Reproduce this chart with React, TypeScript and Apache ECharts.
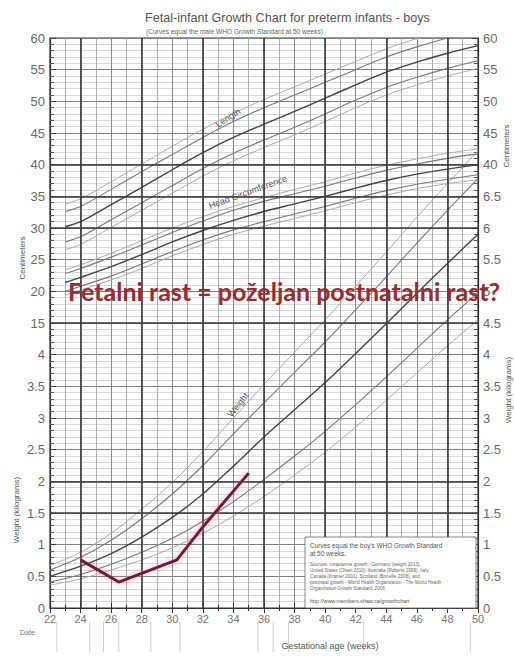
import React, { useEffect, useRef } from 'react';
import * as echarts from 'echarts';

// ---------- data ----------
const weeksW = [22, 24, 26, 28, 30, 32, 34, 36, 38, 40, 42, 44, 46, 48, 50];
const weightP3 = [0.36, 0.46, 0.6, 0.76, 0.95, 1.18, 1.45, 1.76, 2.1, 2.46, 2.86, 3.28, 3.71, 4.14, 4.55];
const weightP10 = [0.41, 0.53, 0.69, 0.88, 1.1, 1.37, 1.68, 2.03, 2.4, 2.79, 3.21, 3.65, 4.1, 4.55, 4.98];
const weightP50 = [0.5, 0.66, 0.86, 1.12, 1.43, 1.8, 2.24, 2.7, 3.13, 3.56, 4.02, 4.49, 4.97, 5.44, 5.9];
const weightP90 = [0.6, 0.8, 1.07, 1.41, 1.8, 2.25, 2.75, 3.24, 3.72, 4.2, 4.71, 5.23, 5.76, 6.28, 6.78];
const weightP97 = [0.67, 0.88, 1.18, 1.56, 1.98, 2.47, 3.0, 3.53, 4.04, 4.55, 5.08, 5.62, 6.17, 6.7, 7.22];

const weeksLH = [23, 24, 26, 28, 30, 32, 34, 36, 38, 40, 42, 44, 46, 48, 50];
const lengthP3 = [26.6, 27.4, 30.1, 32.8, 35.5, 38.2, 40.6, 42.7, 44.7, 46.8, 49.0, 51.0, 52.6, 54.0, 55.2];
const lengthP10 = [27.8, 28.6, 31.3, 34.0, 36.7, 39.4, 41.8, 43.9, 45.9, 48.0, 50.2, 52.2, 53.8, 55.2, 56.4];
const lengthP50 = [30.2, 31.0, 33.7, 36.4, 39.2, 41.9, 44.3, 46.4, 48.4, 50.5, 52.6, 54.6, 56.2, 57.6, 58.8];
const lengthP90 = [32.6, 33.4, 36.1, 38.9, 41.6, 44.3, 46.8, 49.0, 51.0, 53.0, 55.0, 57.0, 58.6, 60.0, 61.3];
const lengthP97 = [33.8, 34.6, 37.3, 40.1, 42.9, 45.6, 48.1, 50.3, 52.3, 54.3, 56.3, 58.3, 59.9, 61.3, 62.6];

const headP3 = [19.4, 20.2, 21.8, 23.6, 25.6, 27.4, 29.0, 30.3, 31.5, 32.7, 34.0, 35.2, 36.2, 37.0, 37.6];
const headP10 = [20.0, 20.8, 22.4, 24.3, 26.3, 28.1, 29.7, 31.0, 32.2, 33.4, 34.7, 35.9, 36.9, 37.7, 38.4];
const headP50 = [21.4, 22.2, 23.9, 25.8, 27.8, 29.6, 31.2, 32.6, 33.8, 35.0, 36.3, 37.5, 38.5, 39.3, 40.0];
const headP90 = [22.8, 23.6, 25.4, 27.3, 29.3, 31.1, 32.8, 34.2, 35.4, 36.6, 37.9, 39.1, 40.1, 41.0, 41.7];
const headP97 = [23.4, 24.2, 26.0, 28.0, 30.0, 31.8, 33.4, 34.8, 36.1, 37.3, 38.7, 39.9, 40.9, 41.8, 42.5];

const patientWeeks = [24, 26.5, 30.3, 32, 35];
const patientWeightKg = [0.76, 0.41, 0.76, 1.28, 2.13];

const leftTickLabels = ['0', '0.5', '1', '1.5', '2', '2.5', '3', '3.5', '4', '15', '20', '25', '30', '35', '40', '45', '50', '55', '60'];
const rightTickLabels = ['0', '0.5', '1', '1.5', '2', '2.5', '3', '3.5', '4', '4.5', '5', '5.5', '6', '6.5', '40', '45', '50', '55', '60'];

const boldWeeks = [24, 28, 32, 36, 40, 44, 48];
const boldRows = [3, 4, 9, 12, 13, 14];
const dateLineWeeks = [22.45, 24.6, 25.5, 26.5, 28.6, 30.5, 35.6, 36.6, 37.6, 42.5, 49.5];

// unit conversions onto the shared grid scale (1 unit = 5 cm = 0.5 kg)
const cmToUnit = (c: number) => c / 5 + 6;
const kgToUnit = (k: number) => k * 2;

const FONT = 'Liberation Sans, Arial, sans-serif';

const pctStyle: Record<string, { color: string; width: number }> = {
  p3: { color: '#ababab', width: 1 },
  p10: { color: '#7a7a7a', width: 1.1 },
  p50: { color: '#444', width: 1.4 },
  p90: { color: '#7a7a7a', width: 1.1 },
  p97: { color: '#ababab', width: 1 },
};

export default function App() {
  const ref = useRef<HTMLDivElement>(null);

  useEffect(() => {
    document.body.style.margin = '0';
    if (!ref.current) return;
    const chart = echarts.init(ref.current, undefined, { renderer: 'svg' });

    const curve = (name: string, key: string, xs: number[], ys: number[], conv: (v: number) => number) => ({
      name,
      type: 'line',
      smooth: 0.3,
      symbol: 'none',
      silent: true,
      data: xs.map((x, i) => [x, conv(ys[i])]),
      lineStyle: { color: pctStyle[key].color, width: pctStyle[key].width },
      z: 3,
    });

    const series: any[] = [
      curve('W3', 'p3', weeksW, weightP3, kgToUnit),
      curve('W10', 'p10', weeksW, weightP10, kgToUnit),
      curve('W50', 'p50', weeksW, weightP50, kgToUnit),
      curve('W90', 'p90', weeksW, weightP90, kgToUnit),
      curve('W97', 'p97', weeksW, weightP97, kgToUnit),
      curve('L3', 'p3', weeksLH, lengthP3, cmToUnit),
      curve('L10', 'p10', weeksLH, lengthP10, cmToUnit),
      curve('L50', 'p50', weeksLH, lengthP50, cmToUnit),
      curve('L90', 'p90', weeksLH, lengthP90, cmToUnit),
      curve('L97', 'p97', weeksLH, lengthP97, cmToUnit),
      curve('H3', 'p3', weeksLH, headP3, cmToUnit),
      curve('H10', 'p10', weeksLH, headP10, cmToUnit),
      curve('H50', 'p50', weeksLH, headP50, cmToUnit),
      curve('H90', 'p90', weeksLH, headP90, cmToUnit),
      curve('H97', 'p97', weeksLH, headP97, cmToUnit),
      {
        name: 'grid-bold',
        type: 'line',
        data: [],
        silent: true,
        markLine: {
          silent: true,
          symbol: 'none',
          label: { show: false },
          lineStyle: { color: '#3a3a3a', width: 1.6, type: 'solid' },
          data: [
            ...boldWeeks.map((w) => ({ xAxis: w })),
            ...boldRows.map((r) => ({ yAxis: r })),
          ],
        },
        z: 2,
      },
      {
        name: 'Patient',
        type: 'line',
        symbol: 'none',
        data: patientWeeks.map((w, i) => [w, kgToUnit(patientWeightKg[i])]),
        lineStyle: {
          color: '#6e1d3c',
          width: 3,
          shadowColor: 'rgba(235,120,150,0.7)',
          shadowBlur: 6,
        },
        z: 10,
      },
    ];

    const option: any = {
      animation: false,
      backgroundColor: '#fff',
      grid: { left: 50, right: 36, top: 38, bottom: 48, show: true, borderColor: '#333', borderWidth: 1.2 },
      xAxis: [
        {
          type: 'value',
          min: 22,
          max: 50,
          interval: 2,
          axisLine: { show: true, lineStyle: { color: '#333', width: 1.2 } },
          axisTick: { show: true, inside: true, length: 5, lineStyle: { color: '#333' } },
          minorTick: { show: true, splitNumber: 2, length: 3, lineStyle: { color: '#333' } },
          axisLabel: { color: '#777', fontSize: 11, fontFamily: FONT, margin: 5 },
          splitLine: { show: true, lineStyle: { color: '#8a8a8a', width: 1 } },
          minorSplitLine: { show: true, lineStyle: { color: '#9a9a9a', width: 0.8 } },
        },
        {
          type: 'value',
          min: 22,
          max: 50,
          interval: 2,
          position: 'top',
          axisLine: { show: false },
          axisTick: { show: true, inside: true, length: 5, lineStyle: { color: '#333' } },
          minorTick: { show: true, splitNumber: 2, length: 3, lineStyle: { color: '#333' } },
          axisLabel: { show: false },
          splitLine: { show: false },
        },
      ],
      yAxis: [
        {
          type: 'value',
          min: 0,
          max: 18,
          interval: 1,
          position: 'left',
          axisLine: { show: true, lineStyle: { color: '#333', width: 1.2 } },
          axisTick: { show: true, inside: true, length: 6, lineStyle: { color: '#444' } },
          minorTick: { show: true, splitNumber: 5, length: 4, lineStyle: { color: '#555' } },
          axisLabel: { formatter: (v: number) => leftTickLabels[v] ?? '', color: '#6a6a6a', fontSize: 13, fontFamily: FONT, margin: 5 },
          splitLine: { show: true, lineStyle: { color: '#808080', width: 1.1 } },
          minorSplitLine: { show: true, lineStyle: { color: '#c8c8c8', width: 0.7 } },
        },
        {
          type: 'value',
          min: 0,
          max: 18,
          interval: 1,
          position: 'right',
          axisLine: { show: true, lineStyle: { color: '#333', width: 1.2 } },
          axisTick: { show: true, inside: true, length: 6, lineStyle: { color: '#444' } },
          minorTick: { show: true, splitNumber: 5, length: 4, lineStyle: { color: '#555' } },
          axisLabel: { formatter: (v: number) => rightTickLabels[v] ?? '', color: '#6a6a6a', fontSize: 13, fontFamily: FONT, margin: 5 },
          splitLine: { show: false },
        },
      ],
      series,
    };

    chart.setOption(option);

    const dateLines = dateLineWeeks.map((w) => {
      const px = chart.convertToPixel({ xAxisIndex: 0 }, w) as number;
      return {
        type: 'line',
        shape: { x1: px, y1: 622, x2: px, y2: 652 },
        style: { stroke: '#cfcfcf', lineWidth: 1 },
        silent: true,
      };
    });

    const txt = (text: string, x: number, y: number, fontSize: number, extra: any = {}, rotation = 0) => ({
      type: 'text',
      x,
      y,
      rotation,
      silent: true,
      style: {
        text,
        fontSize,
        fontFamily: FONT,
        fill: '#555',
        align: 'left',
        verticalAlign: 'middle',
        ...extra,
      },
      z: 100,
    });

    chart.setOption({
      graphic: [
        ...dateLines,
        txt('Fetal-infant Growth Chart for preterm infants - boys', 145, 18, 12.6, { fill: '#555' }),
        txt('(Curves equal the male WHO Growth Standard at 50 weeks)', 146, 31, 6.6, { fill: '#666' }),
        txt('Centimeters', 22, 258, 8, { align: 'center' }, Math.PI / 2),
        txt('Weight (kilograms)', 16, 510, 8, { align: 'center' }, Math.PI / 2),
        txt('Centimeters', 506, 146, 8, { align: 'center' }, Math.PI / 2),
        txt('Weight (kilograms)', 508, 390, 8, { align: 'center' }, Math.PI / 2),
        txt('Date', 20, 632, 7, { fill: '#777' }),
        txt('Gestational age (weeks)', 330, 646, 9, { align: 'center', fill: '#555' }),
        txt('Length', 228, 118, 9, { align: 'center', fill: '#555' }, (33 * Math.PI) / 180),
        txt('Head Circumference', 248, 192, 9, { align: 'center', fill: '#555' }, (20 * Math.PI) / 180),
        txt('Weight', 238, 405, 9, { align: 'center', fill: '#555' }, (52 * Math.PI) / 180),
        {
          type: 'rect',
          shape: { x: 305, y: 537, width: 171, height: 71 },
          style: { fill: '#fff', stroke: '#666', lineWidth: 0.8 },
          silent: true,
          z: 90,
        },
        txt("Curves equal the boy's WHO Growth Standard", 310, 545, 6.4, { fill: '#555' }),
        txt('at 50 weeks.', 310, 553, 6.4, { fill: '#555' }),
        txt('Sources: intrauterine growth - Germany (weight 2013),', 310, 564, 4.6, { fill: '#666' }),
        txt('United States (Olsen 2010), Australia (Roberts 1999), Italy,', 310, 570, 4.6, { fill: '#666' }),
        txt('Canada (Kramer 2001), Scotland (Bonellie 2008), and', 310, 576, 4.6, { fill: '#666' }),
        txt('postnatal growth - World Health Organization - The World Health', 310, 582, 4.6, { fill: '#666' }),
        txt('Organization Growth Standard, 2006', 310, 588, 4.6, { fill: '#666' }),
        txt('http://www.members.shaw.ca/growthchart', 310, 601, 5.4, { fill: '#555' }),
        {
          type: 'text',
          x: 68,
          y: 291,
          silent: true,
          z: 200,
          style: {
            text: 'Fetalni rast = poželjan postnatalni rast?',
            fontSize: 25,
            fontWeight: 'bold',
            fontFamily: 'Lato, Open Sans, sans-serif',
            fill: '#9c2a2e',
            align: 'left',
            verticalAlign: 'middle',
          },
        },
      ],
    });

    return () => chart.dispose();
  }, []);

  return <div ref={ref} style={{ width: 514, height: 656 }} />;
}
